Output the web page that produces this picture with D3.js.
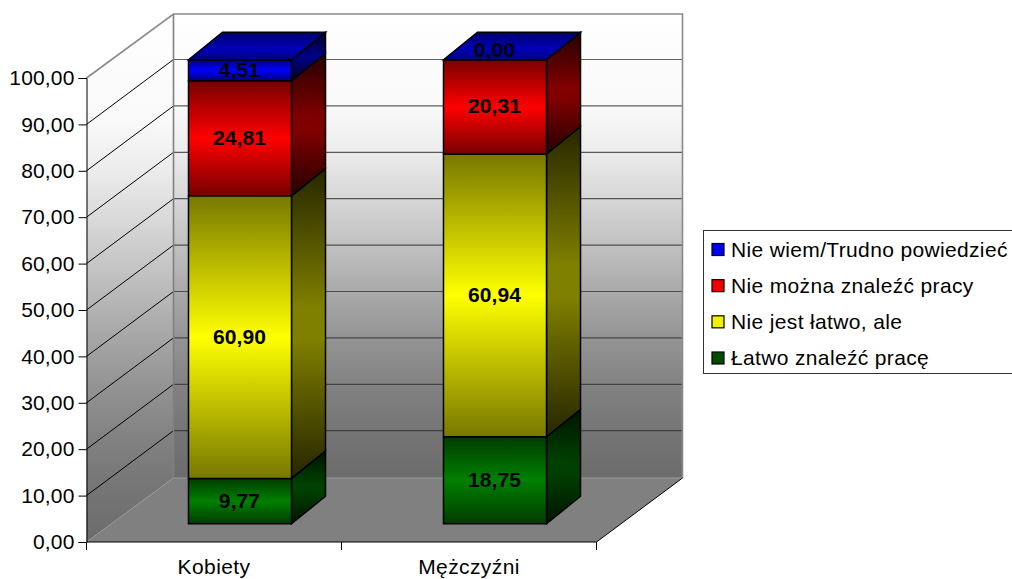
<!DOCTYPE html>
<html><head><meta charset="utf-8">
<style>html,body{margin:0;padding:0;background:#fff}svg{display:block}text{font-family:"Liberation Sans",Arial,sans-serif;fill:#000}</style>
<script src="https://cdn.jsdelivr.net/npm/d3@7/dist/d3.min.js"></script>
</head><body><div id="c"></div>
<script>
const categories = ["Kobiety", "Mężczyźni"];
const seriesNames = ["Łatwo znaleźć pracę", "Nie jest łatwo, ale", "Nie można znaleźć pracy", "Nie wiem/Trudno powiedzieć"];
const easy = [9.77, 18.75];
const notEasy = [60.90, 60.94];
const cannot = [24.81, 20.31];
const dontKnow = [4.51, 0.00];
const yTicks = [0,10,20,30,40,50,60,70,80,90,100];
const palette = [[0,128,0],[255,255,0],[255,0,0],[0,0,255]];

const W=1012,H=579;
const X0=86.5,X1=596.5,Y0=542,Y100=78,DX=87,DY=64,BDX=34,BDY=27.5;
const GX=(DX-BDX)/2-0.5, GY=(DY-BDY)/2;
const fmt=v=>v.toFixed(2).replace(".",",");
const svg=d3.select("#c").append("svg").attr("width",W).attr("height",H);
const defs=svg.append("defs");
function grad(id,stops){
  const g=defs.append("linearGradient").attr("id",id).attr("x1",0).attr("y1",0).attr("x2",0).attr("y2",1);
  stops.forEach(([o,c])=>g.append("stop").attr("offset",o).attr("stop-color",c));
  return `url(#${id})`;
}
const rgb=(c,k)=>`rgb(${c.map(v=>Math.round(v*k)).join(",")})`;
const wallStops=[[0,"#ffffff"],[.2,"#f9f9f9"],[.3,"#ebebeb"],[.4,"#d6d6d6"],[.5,"#c0c0c0"],[.6,"#a9a9a9"],[.7,"#949494"],[.8,"#828282"],[.9,"#757575"],[1,"#6c6c6c"]];
const backFill=grad("back",wallStops);
const leftFill=grad("left",wallStops);

const y=d3.scaleLinear().domain([0,100]).range([Y0,Y100]);
const x=d3.scaleBand().domain(categories).range([X0,X1]).paddingInner(0.596).paddingOuter(0.298);
const poly=(g,p,fill,stroke,sw)=>g.append("polygon").attr("points",p.map(q=>q.join(",")).join(" ")).attr("fill",fill).attr("stroke",stroke||"none").attr("stroke-width",sw||0).attr("stroke-linejoin","miter");

const gw=svg.append("g");
const bx=X0+DX,bxr=X1+DX-1,by0=Y0-DY,by1=Y100-DY;
poly(gw,[[bx,by1],[bxr,by1],[bxr,by0],[bx,by0]],backFill);
poly(gw,[[X0,Y100],[bx,by1],[bx,by0],[X0,Y0]],leftFill);
poly(gw,[[X0,Y0],[X1,Y0],[bxr,by0],[bx,by0]],"#808080");
gw.selectAll("line.g").data(yTicks.filter(t=>t>0&&t<100)).join("line").attr("class","g")
  .attr("x1",bx).attr("x2",bxr).attr("y1",t=>y(t)-DY-0.9).attr("y2",t=>y(t)-DY-0.9).attr("stroke",t=>d3.interpolateRgb("#3a3a3a","#666")(t/100)).attr("stroke-width",1.2);
gw.selectAll("line.l").data(yTicks.filter(t=>t>0&&t<100)).join("line").attr("class","l")
  .attr("x1",X0).attr("x2",bx).attr("y1",t=>y(t)).attr("y2",t=>y(t)-DY-0.9).attr("stroke","#000").attr("stroke-width",1);
gw.append("path").attr("d",`M${X0},${Y100}L${bx},${by1}H${bxr}V${by0}`).attr("fill","none").attr("stroke","#8a8a8a").attr("stroke-width",1.6);
gw.append("path").attr("d",`M${bx},${by1}V${by0}`).attr("fill","none").attr("stroke","#808080").attr("stroke-width",1.6);
gw.append("path").attr("d",`M${bx},${by0}H${bxr}`).attr("fill","none").attr("stroke","#9a9a9a").attr("stroke-width",1);
gw.append("path").attr("d",`M${X0},${Y0}L${bx},${by0}`).attr("fill","none").attr("stroke","#9a9a9a").attr("stroke-width",1).attr("stroke-dasharray","1 1");
gw.append("path").attr("d",`M${X1},${Y0}L${bxr},${by0}`).attr("fill","none").attr("stroke","#000").attr("stroke-width",1);

// axes
const ay=svg.append("g").attr("transform",`translate(${X0},0)`).call(d3.axisLeft(y).tickValues(yTicks).tickFormat(fmt).tickSize(8).tickPadding(4));
ay.select(".domain").attr("stroke","#000");
ay.selectAll("text").attr("font-size",21).attr("letter-spacing",0.15).attr("font-family","Liberation Sans");
const ax=svg.append("g").attr("transform",`translate(0,${Y0})`).call(d3.axisBottom(x.copy().paddingInner(0).paddingOuter(0)).tickSize(0).tickPadding(17));
ax.select(".domain").attr("d",`M${X0},0H${X1}`).attr("stroke","#000");
ax.selectAll("text").attr("font-size",21).attr("letter-spacing",0.4).attr("font-family","Liberation Sans");
const edge=d3.scaleLinear().domain([0,categories.length]).range([X0,X1]);
ax.selectAll("line.e").data(d3.range(categories.length+1)).join("line").attr("class","e")
  .attr("x1",i=>edge(i)).attr("x2",i=>edge(i)).attr("y1",0).attr("y2",8).attr("stroke","#000");

// bars
const rows=categories.map((c,i)=>({c,s0:easy[i],s1:notEasy[i],s2:cannot[i],s3:dontKnow[i]}));
const stacked=d3.stack().keys(["s0","s1","s2","s3"])(rows);
const by=v=>y(v)-GY;
palette.forEach((c,i)=>{
  grad("f"+i,[[0,rgb(c,.47)],[.5,rgb(c,1)],[1,rgb(c,.47)]]);
  grad("s"+i,[[0,rgb(c,.15)],[.3,rgb(c,.38)],[.45,rgb(c,.5)],[.55,rgb(c,.5)],[.7,rgb(c,.38)],[1,rgb(c,.15)]]);
  grad("t"+i,[[0,rgb(c,.42)],[.6,rgb(c,.72)],[1,rgb(c,.5)]]);
});
const gb=svg.append("g"), gl=svg.append("g");
categories.forEach((cat,j)=>{
  const xa=x(cat)+GX, xb=xa+x.bandwidth();
  stacked.forEach((s,i)=>{
    const [a,b]=s[j]; if(b-a<=0) return;
    const t=by(b), u=by(a);
    poly(gb,[[xb,t],[xb+BDX,t-BDY],[xb+BDX,u-BDY],[xb,u]],`url(#s${i})`,"#000",1.5);
    poly(gb,[[xa,t],[xb,t],[xb,u],[xa,u]],`url(#f${i})`,"#000",1.5);
  });
  const top=by(100);
  poly(gb,[[xa,top],[xa+BDX,top-BDY],[xb+BDX,top-BDY],[xb,top]],`url(#t3)`,"#000",1.5);
  stacked.forEach((s,i)=>{
    const [a,b]=s[j];
    gl.append("text").attr("x",(xa+xb)/2-0.5).attr("y",(b-a>0?(by(a)+by(b))/2-1:by(b)-10)).attr("dy","0.36em")
      .attr("text-anchor","middle").attr("font-size",21).attr("letter-spacing",0.1).attr("font-weight","bold").text(fmt(s[j].data["s"+i]));
  });
});

// legend
const lg=svg.append("g");
lg.append("rect").attr("x",703.5).attr("y",230.5).attr("width",330).attr("height",143).attr("fill","#fff").attr("stroke","#333");
const order=[3,2,1,0];
const ly=d3.scalePoint().domain(order).range([249,357.5]);
order.forEach(i=>{
  lg.append("rect").attr("x",712).attr("y",ly(i)-5.5).attr("width",12).attr("height",12).attr("fill",rgb(palette[i],i===1?.95:(i===0?.6:.95))).attr("stroke","#000").attr("stroke-width",1.2);
  lg.append("text").attr("x",731).attr("y",ly(i)).attr("dy","0.36em").attr("font-size",21).attr("letter-spacing",0.35).text(seriesNames[i]);
});
</script></body></html>
